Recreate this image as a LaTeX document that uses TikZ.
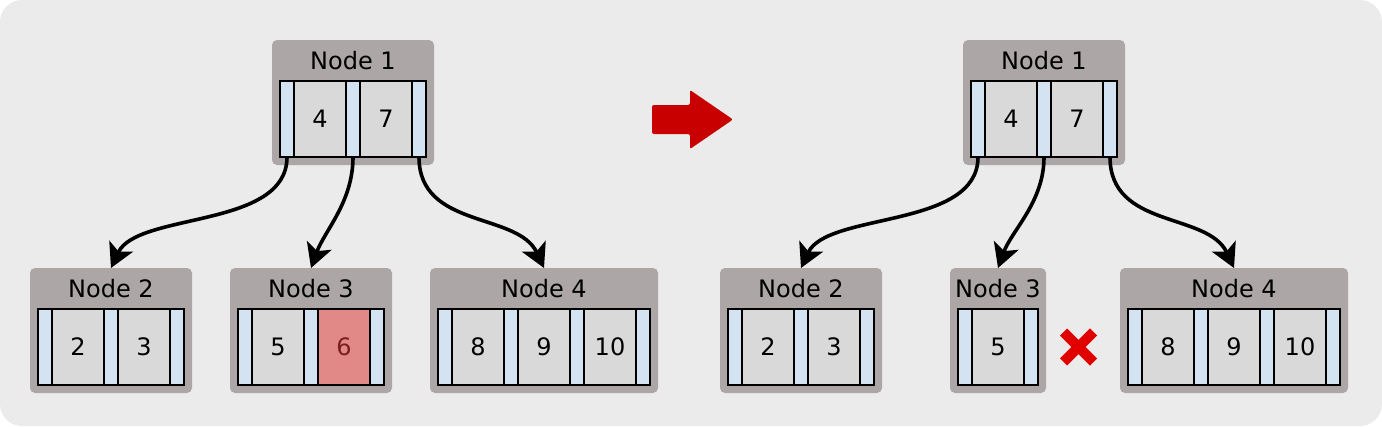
\documentclass[tikz,border=0pt]{standalone}
\usepackage{fontspec}
\setmainfont{DejaVu Sans}
\usetikzlibrary{arrows.meta}

\definecolor{bggray}{HTML}{EBEBEB}
\definecolor{boxgray}{HTML}{ACA7A6}
\definecolor{keygray}{HTML}{D9D9D9}
\definecolor{ptrblue}{HTML}{D3E3F1}
\definecolor{badred}{HTML}{E08987}
\definecolor{badtext}{HTML}{7A1F1F}
\definecolor{movered}{HTML}{C80000}
\definecolor{crossred}{HTML}{E00000}

\tikzset{
  box/.style={fill=boxgray, rounded corners=5pt, inner sep=0, outer sep=0, minimum height=125pt},
  title/.style={inner sep=0, font=\fontsize{24}{27}\selectfont},
  ptr/.style={draw, line width=2pt, fill=ptrblue, inner sep=0, outer sep=0, minimum width=14pt, minimum height=76pt},
  key/.style={draw, line width=2pt, fill=keygray, inner sep=0, outer sep=0, minimum width=52pt, minimum height=76pt, font=\fontsize{24}{27}\selectfont},
  badkey/.style={key, fill=badred, text=badtext},
  link/.style={line width=3.6pt, -{Stealth[length=24pt, width=26pt, inset=6pt]}, out=-90, out distance=72pt, in distance=62pt},
  mid/.style={out distance=45pt, in distance=40pt}
}

% name, left, top, number of keys, title, keys
\newcommand{\bnode}[6]{%
  \node[box, anchor=north west, minimum width={(30+66*#4)*1pt}] (#1) at (#2,#3) {};
  \node[title] (#1-t) at ([yshift=-21pt]#1.north) {#5};
  \node[ptr, anchor=north west] (#1-p0) at (#2+8,#3+41) {};
  \foreach \k/\s [count=\i] in {#6} {
    \node[\s, anchor=north west] (#1-k\i) at ({#2+22+66*(\i-1)},#3+41) {\k};
    \node[ptr, anchor=north west] (#1-p\i) at ({#2+8+66*\i},#3+41) {};
  }
}

\begin{document}
\begin{tikzpicture}[x=1pt, y=-1pt]

\useasboundingbox (0,0) rectangle (1382,426);
\fill[bggray, rounded corners=22pt] (0,0) rectangle (1382,426);

\bnode{la}{272}{40}{2}{Node 1}{4/key, 7/key}
\bnode{lb}{30}{268}{2}{Node 2}{2/key, 3/key}
\bnode{lc}{230}{268}{2}{Node 3}{5/key, 6/badkey}
\bnode{ld}{430}{268}{3}{Node 4}{8/key, 9/key, 10/key}

\draw[link, in=65] (la-p0.south) to (lb.north);
\draw[link, mid, in=70] (la-p1.south) to (lc.north);
\draw[link, in=115] (la-p2.south) to (ld.north);

\fill[movered, rounded corners=2pt] (652,105) -- (690,105) -- (690,90) -- (733,119.5)
  -- (690,149) -- (690,134) -- (652,134) -- cycle;

\bnode{ra}{963}{40}{2}{Node 1}{4/key, 7/key}
\bnode{rb}{720}{268}{2}{Node 2}{2/key, 3/key}
\bnode{rc}{950}{268}{1}{Node 3}{5/key}
\bnode{rd}{1120}{268}{3}{Node 4}{8/key, 9/key, 10/key}

\draw[link, in=65] (ra-p0.south) to (rb.north);
\draw[link, mid, in=70] (ra-p1.south) to (rc.north);
\draw[link, in=115] (ra-p2.south) to (rd.north);

\draw[crossred, line width=10pt] (1063.5,332) -- (1093.5,362) (1063.5,362) -- (1093.5,332);

\end{tikzpicture}
\end{document}
